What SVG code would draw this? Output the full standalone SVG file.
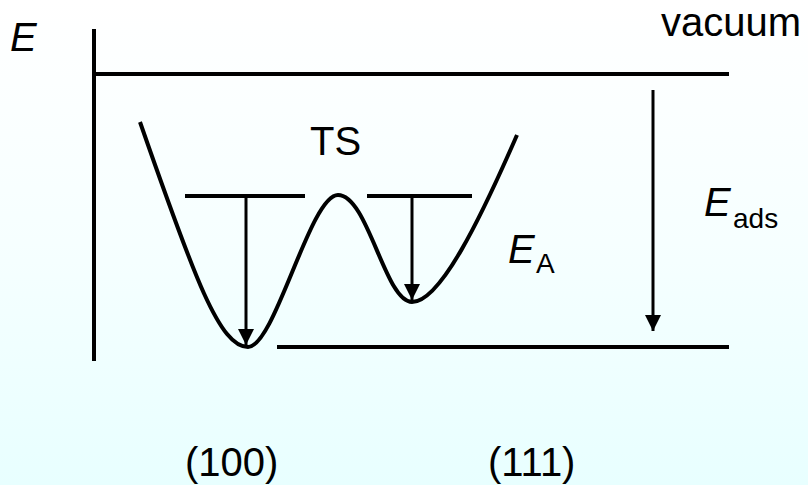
<svg xmlns="http://www.w3.org/2000/svg" width="808" height="485" viewBox="0 0 808 485">
<defs>
<linearGradient id="bg" x1="0" y1="0" x2="0" y2="1">
<stop offset="0" stop-color="#ffffff"/>
<stop offset="0.5" stop-color="#f6ffff"/>
<stop offset="1" stop-color="#e8ffff"/>
</linearGradient>
<marker id="ah" markerUnits="userSpaceOnUse" markerWidth="16" markerHeight="16" viewBox="0 0 16 16" refX="16" refY="8" orient="auto">
<path d="M0,0 L16,8 L0,16 Z" fill="#000"/>
</marker>
</defs>
<style>
.ln{stroke:#000;stroke-width:4;fill:none}
.ar{stroke:#000;stroke-width:3;fill:none}
.t{font-family:"Liberation Sans",Arial,sans-serif;font-size:40px;fill:#000}
.i{font-style:italic}
.s{font-size:28px}
</style>
<rect width="808" height="485" fill="url(#bg)"/>
<g id="axes">
<line class="ln" x1="94" y1="29" x2="94" y2="361"/>
<line class="ln" x1="94" y1="74" x2="729" y2="74"/>
<line class="ln" x1="277" y1="347" x2="729" y2="347"/>
</g>
<g id="curve">
<path class="ln" stroke-width="4.5" d="M140,122 C195,280 220,347 248,347 C275,347 310,195 338,195 C368,195 385,302 412,302 C440,302 480,220 517,135"/>
</g>
<g id="levels">
<line class="ln" x1="185" y1="196" x2="305" y2="196"/>
<line class="ln" x1="367" y1="196" x2="472" y2="196"/>
</g>
<g id="connectors">
<line class="ar" x1="246" y1="196" x2="246" y2="345" marker-end="url(#ah)"/>
<line class="ar" x1="412" y1="196" x2="412" y2="300" marker-end="url(#ah)"/>
<line class="ar" x1="653" y1="90" x2="653" y2="331" marker-end="url(#ah)"/>
</g>
<g id="labels">
<text class="t i" x="10" y="51">E</text>
<text class="t" x="661" y="36">vacuum</text>
<text class="t" x="310" y="155">TS</text>
<text class="t i" x="508" y="263">E</text>
<text class="t s" x="536" y="273">A</text>
<text class="t i" x="704" y="216">E</text>
<text class="t s" x="733" y="228">ads</text>
<text class="t" x="185" y="476">(100)</text>
<text class="t" x="488" y="476">(111)</text>
</g>
</svg>
